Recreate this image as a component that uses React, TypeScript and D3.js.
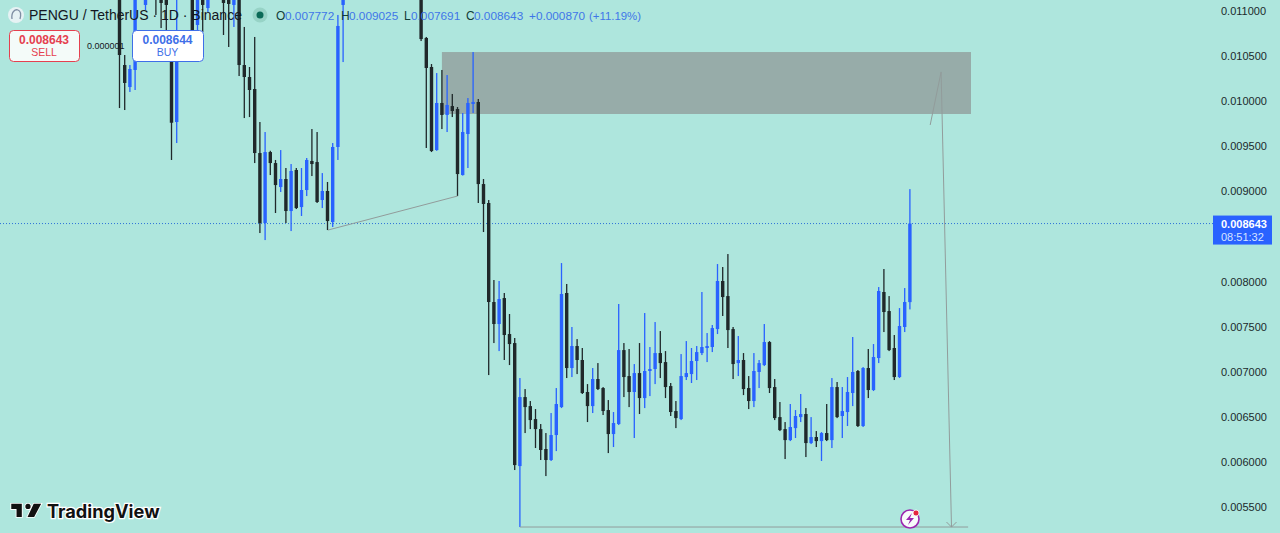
import React, { useRef, useEffect } from 'react';
import * as d3 from 'd3';

// prices are stored x 1e6, candles 4-6, 12-13, 18-19 and 44-57 sit above the visible range
const opens = [
  11344, 10401, 10157, 10346, 11420, 11067, 11240, 11288, 11344, 11288, 10623, 9769, 11300, 11480, 11233, 10845, 11255, 11033, 11210, 11390,
  11233, 11211, 11067, 11177, 10401, 10268, 10135, 9425, 8649, 9436, 9314, 9048, 9137, 8782, 9237, 8826, 9015, 9337, 9325, 8904,
  9004, 8660, 9492, 11067, 11344, 11820, 11700, 11980, 12210, 12040, 11790, 11910, 12130, 11950, 11680, 11770, 11540, 11690, 11233, 10701,
  10379, 9458, 9980, 9847, 9946, 9913, 9181, 9636, 9969, 9991, 9081, 8871, 7773, 7529, 7817, 7418, 7318, 5954, 6719, 6619,
  6475, 6364, 6143, 6021, 6298, 6608, 7873, 7041, 7285, 7130, 6775, 6619, 6919, 6819, 6575, 6309, 6420, 7240, 6952, 6775,
  6985, 6708, 7008, 7030, 7207, 7107, 6841, 6564, 6475, 6941, 6974, 7119, 7207, 7263, 7274, 7473, 8006, 7839, 7473, 7096,
  7130, 6819, 6675, 6997, 7074, 7329, 6830, 6497, 6364, 6242, 6375, 6497, 6531, 6209, 6276, 6231, 6320, 6242, 6830, 6509,
  6553, 6764, 7008, 6398, 7041, 6797, 7152, 7884, 7673, 7263, 6941, 7496, 7772,
];
const highs = [
  11455, 10512, 10401, 11288, 11510, 11399, 11480, 11399, 11455, 11380, 10678, 11233, 11560, 11620, 11344, 11344, 11366, 11322, 11440, 11530,
  11344, 11322, 11277, 11288, 10823, 10379, 10712, 9769, 9658, 9450, 9348, 9458, 9259, 9303, 9259, 9259, 9370, 9691, 9658, 9203,
  9104, 9536, 10956, 11455, 11900, 12050, 12100, 12320, 12400, 12180, 11990, 12240, 12290, 12020, 11860, 11900, 11780, 11810, 11344, 10712,
  10412, 10312, 10346, 10290, 10080, 9935, 9869, 10035, 10545, 10024, 9137, 8904, 8017, 8006, 7873, 7640, 7374, 6930, 6808, 6675,
  6586, 6420, 6320, 6542, 6819, 8205, 7973, 7496, 7362, 7263, 6863, 7041, 7096, 6830, 6686, 6553, 7751, 7318, 7252, 7085,
  7318, 7651, 7274, 7551, 7451, 7229, 6875, 6675, 7196, 7340, 7263, 7285, 7884, 7429, 7518, 8194, 8161, 8305, 7496, 7396,
  7207, 6952, 7207, 7130, 7529, 7340, 6919, 6664, 6442, 6642, 6575, 6753, 6597, 6497, 6342, 6331, 6642, 6930, 6886, 6830,
  6941, 7385, 7019, 7052, 7252, 7307, 7939, 8139, 7839, 7407, 7706, 7928, 9025,
];
const lows = [
  9924, 9902, 10102, 10124, 11190, 11011, 11180, 10956, 10811, 10789, 9348, 9536, 11210, 11240, 10767, 10767, 10767, 10989, 11170, 11200,
  10734, 10601, 10823, 10279, 9813, 9824, 9314, 8538, 8460, 9181, 8760, 8993, 8649, 8560, 8804, 8727, 8948, 9170, 8871, 8815,
  8571, 8605, 9348, 10434, 11300, 11640, 11560, 11880, 11960, 11720, 11620, 11820, 11880, 11600, 11500, 11480, 11420, 11360, 10667, 9481,
  9436, 9450, 9691, 9658, 9824, 8948, 9175, 9259, 9869, 8871, 8549, 6963, 7318, 7229, 7130, 7074, 5910, 5278, 6320, 6364,
  6154, 6021, 5843, 6010, 6120, 6597, 6930, 6941, 6974, 6753, 6442, 6542, 6797, 6520, 6098, 6165, 6409, 6719, 6608, 6265,
  6531, 6597, 6730, 6863, 6930, 6708, 6509, 6375, 6464, 6908, 6875, 6908, 7185, 7107, 7218, 7418, 7618, 7263, 6919, 6952,
  6741, 6586, 6608, 6819, 7063, 6764, 6464, 6342, 6032, 6231, 6265, 6442, 6054, 6198, 6165, 6010, 6231, 6154, 6486, 6265,
  6398, 6619, 6387, 6387, 6708, 6786, 7096, 7440, 7229, 6908, 6930, 7440, 7691,
];
const closes = [
  10512, 10202, 10357, 11177, 11260, 11233, 11390, 11144, 11089, 11067, 9761, 10590, 11480, 11310, 10789, 11233, 11067, 11211, 11390, 11260,
  11089, 11078, 11189, 10401, 10268, 10124, 9425, 8649, 9436, 9314, 9070, 9137, 8782, 9226, 8815, 9015, 9348, 9303, 8882, 9004,
  8671, 9492, 10834, 11344, 11820, 11700, 11980, 12210, 12040, 11790, 11910, 12130, 11950, 11680, 11770, 11540, 11690, 11430, 10689, 10368,
  9447, 9980, 9847, 9958, 9891, 9192, 9658, 9980, 9991, 9081, 8860, 7773, 7529, 7806, 7407, 7307, 5965, 6719, 6608, 6464,
  6364, 6132, 6021, 6298, 6642, 7862, 7041, 7285, 7130, 6764, 6619, 6919, 6808, 6564, 6309, 6431, 7240, 6941, 6775, 6985,
  6708, 7008, 7030, 7207, 7096, 6830, 6553, 6486, 6952, 6985, 7119, 7218, 7274, 7285, 7484, 8006, 7828, 7462, 7085, 7130,
  6808, 6675, 7008, 7096, 7329, 6819, 6486, 6353, 6242, 6387, 6509, 6531, 6209, 6276, 6231, 6320, 6242, 6830, 6497, 6564,
  6775, 6997, 6398, 7041, 6797, 7163, 7895, 7662, 7240, 6941, 7507, 7773, 8643,
];

const priceTicks = [0.011, 0.0105, 0.01, 0.0095, 0.009, 0.008, 0.0075, 0.007, 0.0065, 0.006, 0.0055];
const lastPrice = 0.008643;

// drawings: [candle index, price]
const zoneBox = { from: 62, to: 163.75, top: 0.010545, bottom: 0.009858 };
const trendLine: [number, number][] = [[40.1, 0.008571], [65, 0.008948]];
const pathLine: [number, number][] = [[155.9, 0.009736], [158, 0.010324], [160, 0.005278]];
const baseLine: [number, number][] = [[77, 0.005278], [163.2, 0.005278]];

const ohlcLegend = [
  { x: 276, label: 'O', value: '0.007772', vx: 285 },
  { x: 341, label: 'H', value: '0.009025', vx: 349 },
  { x: 404, label: 'L', value: '0.007691', vx: 411 },
  { x: 466, label: 'C', value: '0.008643', vx: 474 },
];

const BG = '#aee6dd';
const UP = '#2962ff';
const DOWN = '#20282a';
const LINE = '#929c9b';
const FONT = '"Liberation Sans", Arial, sans-serif';

const App: React.FC = () => {
  const svgRef = useRef<SVGSVGElement | null>(null);

  useEffect(() => {
    d3.select(svgRef.current).selectAll('*').remove();
    const svg = d3.select(svgRef.current);

    const x = d3.scaleLinear().domain([0, 152]).range([119.5, 909.9]);
    const y = d3.scaleLinear().domain([0.011, 0.0055]).range([11, 507]);

    svg.append('rect').attr('width', 1280).attr('height', 533).attr('fill', BG);

    // zone behind the candles
    svg.append('rect')
      .attr('x', x(zoneBox.from))
      .attr('y', y(zoneBox.top))
      .attr('width', x(zoneBox.to) - x(zoneBox.from))
      .attr('height', y(zoneBox.bottom) - y(zoneBox.top))
      .attr('fill', '#97aca9');

    // last price line
    svg.append('line')
      .attr('x1', 0).attr('x2', 1213)
      .attr('y1', y(lastPrice)).attr('y2', y(lastPrice))
      .attr('stroke', '#2f73d8').attr('stroke-width', 1).attr('stroke-dasharray', '1 2');

    // candles
    const candles = svg.append('g').selectAll('g')
      .data(opens.map((o, i) => ({ i, o, h: highs[i], l: lows[i], c: closes[i] })))
      .enter()
      .append('g')
      .attr('fill', d => (d.c >= d.o ? UP : DOWN));

    candles.append('rect')
      .attr('x', d => x(d.i) - 0.65)
      .attr('width', 1.3)
      .attr('y', d => y(d.h / 1e6))
      .attr('height', d => y(d.l / 1e6) - y(d.h / 1e6));

    candles.append('rect')
      .attr('x', d => x(d.i) - 1.7)
      .attr('width', 3.4)
      .attr('y', d => y(Math.max(d.o, d.c) / 1e6))
      .attr('height', d => Math.max(1, y(Math.min(d.o, d.c) / 1e6) - y(Math.max(d.o, d.c) / 1e6)));

    // drawings
    const line = d3.line<[number, number]>().x(d => x(d[0])).y(d => y(d[1]));
    [trendLine, pathLine, baseLine].forEach(pts => {
      svg.append('path').attr('d', line(pts)).attr('fill', 'none').attr('stroke', LINE).attr('stroke-width', 1);
    });
    const tip = pathLine[2];
    svg.append('path')
      .attr('d', `M${x(tip[0]) - 5},${y(tip[1]) - 5}L${x(tip[0])},${y(tip[1])}L${x(tip[0]) + 5},${y(tip[1]) - 5}`)
      .attr('fill', 'none').attr('stroke', LINE).attr('stroke-width', 1);

    // price axis
    const axis = d3.axisRight(y)
      .tickValues(priceTicks)
      .tickSize(0)
      .tickPadding(0)
      .tickFormat(d => d3.format('.6f')(d as number));
    const axisG = svg.append('g').attr('transform', 'translate(1221,0)').call(axis);
    axisG.select('.domain').remove();
    axisG.selectAll('text')
      .attr('font-family', FONT).attr('font-size', 11).attr('fill', '#1c2a2c');

    // last price label
    svg.append('rect').attr('x', 1213).attr('y', y(lastPrice) - 8).attr('width', 59).attr('height', 29).attr('fill', UP);
    svg.append('text').attr('x', 1221).attr('y', y(lastPrice) + 4)
      .attr('font-family', FONT).attr('font-size', 11).attr('font-weight', 700).attr('fill', '#fff').text('0.008643');
    svg.append('text').attr('x', 1221).attr('y', y(lastPrice) + 17)
      .attr('font-family', FONT).attr('font-size', 11).attr('fill', '#d6e2ff').text('08:51:32');

    // header
    const head = svg.append('g').attr('font-family', FONT);
    head.append('circle').attr('cx', 16).attr('cy', 15).attr('r', 8).attr('fill', '#e6f2f4');
    head.append('path').attr('d', 'M12,19C11,12 15,9 18,10C21,11 21,15 20,19').attr('fill', 'none').attr('stroke', '#7f8ea3').attr('stroke-width', 1.3);
    head.append('text').attr('x', 29).attr('y', 20).attr('font-size', 14).attr('fill', '#131722')
      .text('PENGU / TetherUS · 1D · Binance');
    head.append('circle').attr('cx', 260).attr('cy', 15).attr('r', 7.5).attr('fill', '#97d3c6');
    head.append('circle').attr('cx', 260).attr('cy', 15).attr('r', 3.5).attr('fill', '#0b6b58');

    ohlcLegend.forEach(d => {
      head.append('text').attr('x', d.x).attr('y', 20).attr('font-size', 12).attr('fill', '#123c38').text(d.label);
      head.append('text').attr('x', d.vx).attr('y', 20).attr('font-size', 11.8).attr('fill', '#3f76e8').text(d.value);
    });
    head.append('text').attr('x', 529).attr('y', 20).attr('font-size', 11.8).attr('fill', '#3f76e8').text('+0.000870');
    head.append('text').attr('x', 589).attr('y', 20).attr('font-size', 11.4).attr('fill', '#3f76e8').text('(+11.19%)');

    // order buttons
    const buttons = [
      { x: 9, w: 70, color: '#e5404f', price: '0.008643', side: 'SELL', fill: '#f4fbf9' },
      { x: 132, w: 71, color: '#3f6fe8', price: '0.008644', side: 'BUY', fill: '#ffffff' },
    ];
    buttons.forEach(b => {
      head.append('rect').attr('x', b.x + 0.5).attr('y', 30.5).attr('width', b.w).attr('height', 31).attr('rx', 4)
        .attr('fill', b.fill).attr('stroke', b.color);
      head.append('text').attr('x', b.x + b.w / 2).attr('y', 44).attr('text-anchor', 'middle')
        .attr('font-size', 12).attr('font-weight', 700).attr('fill', b.color).text(b.price);
      head.append('text').attr('x', b.x + b.w / 2).attr('y', 56).attr('text-anchor', 'middle')
        .attr('font-size', 10.5).attr('fill', b.color).text(b.side);
    });
    head.append('text').attr('x', 87).attr('y', 49).attr('font-size', 9).attr('fill', '#131722').text('0.000001');

    // watermark
    const logo = svg.append('g');
    logo.append('path')
      .attr('transform', 'translate(9.5,498.5) scale(0.88)')
      .attr('d', 'M14 6H2v6h6v9h6V6zm14 15h-7.5l7-15H36l-8 15zm-7-9a3 3 0 1 0 0-6 3 3 0 0 0 0 6z')
      .attr('fill', '#111').attr('stroke', '#fff').attr('stroke-width', 2).attr('paint-order', 'stroke');
    logo.append('text').attr('x', 47).attr('y', 518)
      .attr('font-family', 'Inter, sans-serif').attr('font-size', 18.2).attr('font-weight', 700)
      .attr('fill', '#111').attr('stroke', '#fff').attr('stroke-width', 2.5).attr('paint-order', 'stroke')
      .text('TradingView');

    // alert badge
    const badge = svg.append('g');
    badge.append('circle').attr('cx', 910).attr('cy', 519).attr('r', 9).attr('fill', '#f8fbfb').attr('stroke', '#9c27b0').attr('stroke-width', 1.6);
    badge.append('path').attr('d', 'M912,513L906,520H910L908,525L914,518H910Z').attr('fill', '#9c27b0');
    badge.append('circle').attr('cx', 916).attr('cy', 513).attr('r', 3).attr('fill', '#e5263f').attr('stroke', '#fff').attr('stroke-width', 0.8);
  }, []);

  return <svg ref={svgRef} width={1280} height={533} style={{ position: 'absolute', left: 0, top: 0, display: 'block' }} />;
};

export default App;
